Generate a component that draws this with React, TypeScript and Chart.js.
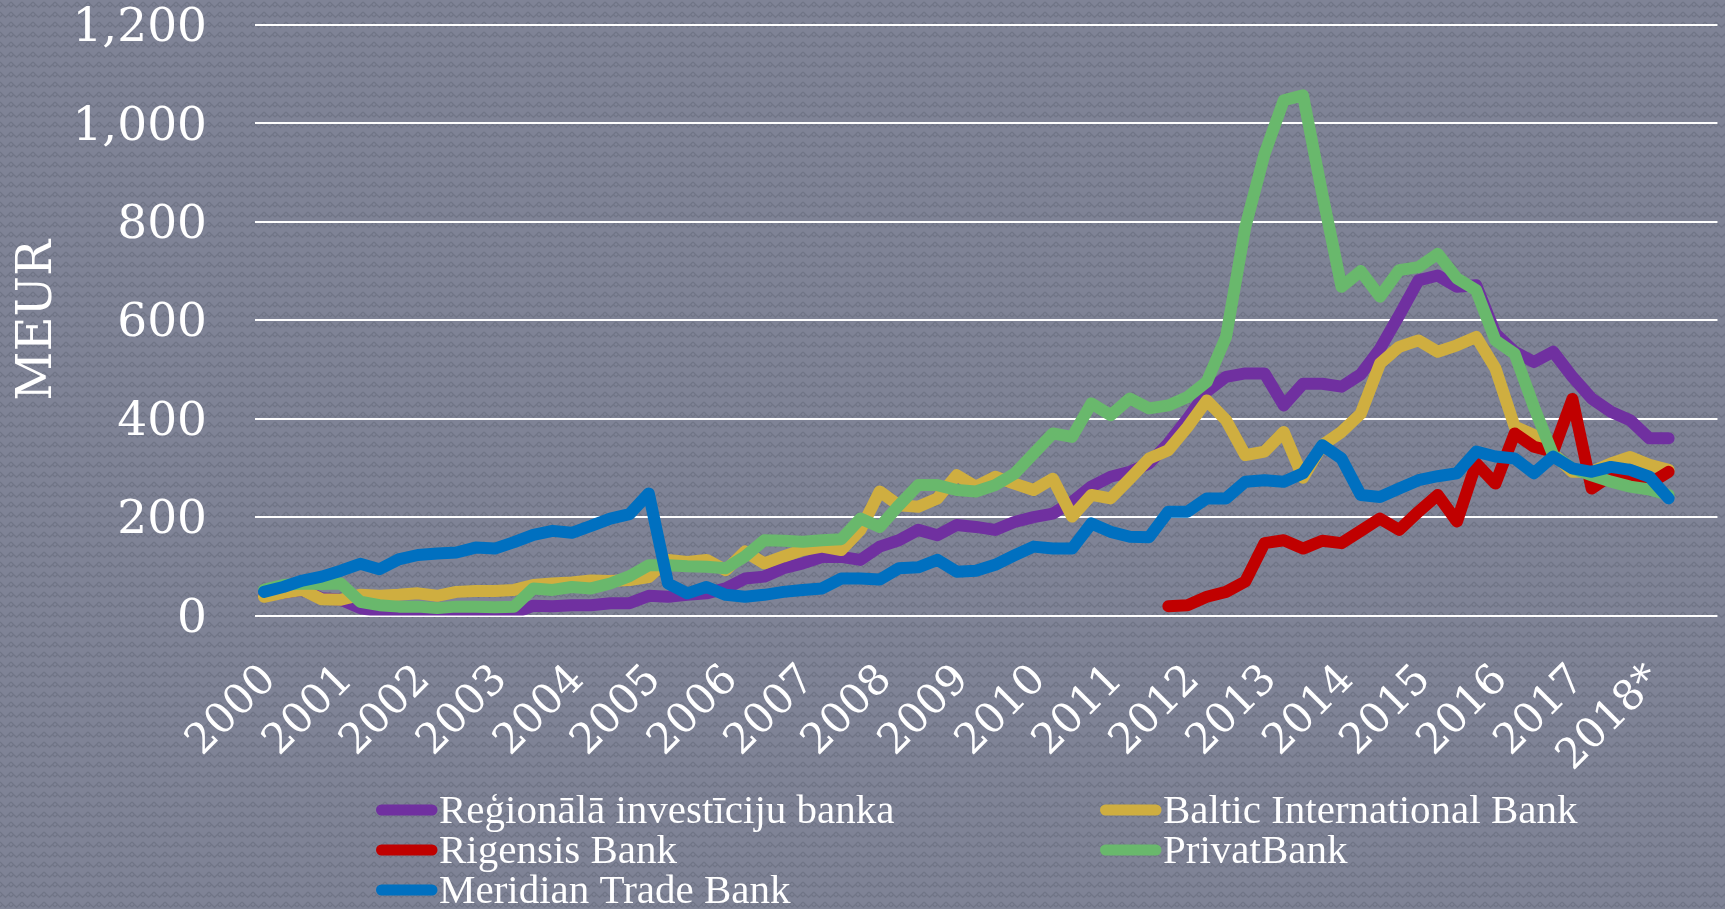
import React, { useEffect, useRef } from 'react';
import { Chart, registerables } from 'chart.js';

Chart.register(...registerables);

// Quarterly data, 2000 Q1 .. 2018 Q2 (74 quarters), MEUR
const yearLabels = ['2000', '2001', '2002', '2003', '2004', '2005', '2006', '2007', '2008', '2009',
  '2010', '2011', '2012', '2013', '2014', '2015', '2016', '2017', '2018*'];

const regionala = [40, 46, 52, 35, 32, 15, 8, 3, 3, 4, 6, 6, 6, 5, 20, 19, 21, 21, 25, 25,
  40, 38, 42, 45, 55, 75, 79, 96, 106, 119, 119, 113, 140, 153, 174, 163, 184, 180, 174, 190,
  200, 207, 231, 262, 282, 292, 309, 350, 400, 455, 485, 492, 492, 427, 471, 471, 465, 490, 542, 610,
  681, 691, 668, 671, 573, 536, 515, 536, 485, 441, 414, 397, 360, 360];

const baltic = [38, 46, 52, 33, 32, 42, 40, 42, 45, 40, 48, 50, 50, 52, 62, 65, 67, 71, 70, 72,
  78, 113, 109, 113, 92, 130, 106, 120, 133, 140, 133, 174, 252, 224, 221, 238, 285, 262, 282, 268,
  255, 278, 201, 245, 238, 278, 319, 336, 383, 437, 397, 326, 333, 373, 280, 346, 373, 410, 512, 546,
  559, 536, 549, 566, 502, 384, 367, 329, 292, 292, 309, 322, 306, 296];

// Rigensis Bank: no data before 2011 Q4
const rigensis: (number | null)[] = [
  null, null, null, null, null, null, null, null, null, null,
  null, null, null, null, null, null, null, null, null, null,
  null, null, null, null, null, null, null, null, null, null,
  null, null, null, null, null, null, null, null, null, null,
  null, null, null, null, null, null, null, 19, 21, 38,
  48, 69, 147, 153, 136, 152, 147, 172, 197, 174,
  211, 245, 191, 309, 268, 370, 343, 333, 440, 258,
  285, 279, 268, 292];

const privat = [52, 62, 65, 64, 65, 28, 21, 18, 18, 15, 18, 18, 17, 18, 55, 52, 58, 55, 65, 80,
  102, 102, 100, 99, 96, 120, 153, 152, 150, 153, 155, 197, 180, 224, 265, 265, 255, 252, 265, 288,
  329, 370, 363, 431, 407, 441, 421, 427, 444, 475, 566, 789, 938, 1047, 1057, 857, 668, 700, 648, 702,
  708, 735, 685, 661, 559, 532, 424, 326, 299, 285, 272, 262, 256, 245];

const meridian = [48, 58, 71, 79, 91, 105, 94, 114, 123, 126, 128, 138, 136, 149, 164, 172, 168, 182, 197, 206,
  248, 65, 45, 58, 42, 38, 42, 48, 52, 55, 75, 75, 73, 96, 98, 113, 89, 91, 103, 122,
  140, 136, 136, 187, 170, 160, 159, 211, 211, 238, 238, 272, 275, 272, 289, 346, 319, 245, 241, 258,
  275, 283, 289, 333, 323, 319, 289, 323, 299, 292, 302, 296, 282, 238];

const seriesNames = ['Reģionālā investīciju banka', 'Baltic International Bank', 'Rigensis Bank', 'PrivatBank', 'Meridian Trade Bank'];
const seriesColors = ['#7030A0', '#CFAE40', '#C00000', '#69B86C', '#0070C0'];
const seriesValues: (number | null)[][] = [regionala, baltic, rigensis, privat, meridian];

const yTicks = [0, 200, 400, 600, 800, 1000, 1200];

export default function App() {
  const ref = useRef<HTMLCanvasElement>(null);

  useEffect(() => {
    document.body.style.margin = '0';
    const canvas = ref.current!;
    const ctx = canvas.getContext('2d')!;

    // background texture
    const pc = document.createElement('canvas');
    pc.width = 11;
    pc.height = 10;
    const p = pc.getContext('2d')!;
    p.fillStyle = '#7f8396';
    p.fillRect(0, 0, 11, 10);
    p.strokeStyle = 'rgba(102,106,124,0.6)';
    p.lineWidth = 1.2;
    p.beginPath();
    p.moveTo(0, 2); p.lineTo(5.5, 7.5); p.lineTo(11, 2);
    p.moveTo(0, 7); p.lineTo(2.5, 4.5); p.moveTo(8.5, 4.5); p.lineTo(11, 7);
    p.stroke();
    const pattern = ctx.createPattern(pc, 'repeat')!;

    const bgPlugin = {
      id: 'bgTexture',
      beforeDraw(chart: any) {
        const c = chart.ctx;
        c.save();
        c.fillStyle = pattern;
        c.fillRect(0, 0, chart.width, chart.height);
        c.restore();
      },
    };

    const legendPlugin = {
      id: 'gridLegend',
      afterDraw(chart: any) {
        const c = chart.ctx;
        c.save();
        const cols = [376, 1100];
        const rows = [810, 850, 890];
        c.font = '41px "Liberation Serif"';
        c.textBaseline = 'alphabetic';
        c.textAlign = 'left';
        seriesNames.forEach((name, k) => {
          const col = cols[k % 2];
          const row = rows[Math.floor(k / 2)];
          c.strokeStyle = seriesColors[k];
          c.lineWidth = 11;
          c.lineCap = 'round';
          c.beginPath();
          c.moveTo(col + 5.5, row);
          c.lineTo(col + 56, row);
          c.stroke();
          c.fillStyle = '#ffffff';
          c.fillText(name, col + 63, row + 13);
        });
        c.restore();
      },
    };

    const datasets = seriesValues.map((vals, k) => ({
      label: seriesNames[k],
      data: vals
        .map((v, i) => ({ x: i, y: v }))
        .filter((pt) => pt.y !== null),
      borderColor: seriesColors[k],
      backgroundColor: seriesColors[k],
      borderWidth: 12,
      borderCapStyle: 'round' as const,
      borderJoinStyle: 'round' as const,
      pointRadius: 0,
      tension: 0,
      fill: false,
      order: seriesNames.length - 1 - k,
    }));

    const chart = new Chart(ctx, {
      type: 'line',
      data: { datasets },
      plugins: [bgPlugin, legendPlugin],
      options: {
        animation: false,
        responsive: false,
        devicePixelRatio: 1,
        layout: { padding: { top: 25, right: 0, bottom: 0, left: 0 } },
        plugins: {
          legend: { display: false },
          tooltip: { enabled: false },
        },
        scales: {
          x: {
            type: 'linear',
            min: -0.465,
            max: 75.54,
            grid: { display: false, drawTicks: false },
            border: { display: false },
            afterFit(scale: any) {
              scale.height = 293.5;
            },
            afterBuildTicks(scale: any) {
              scale.ticks = yearLabels.map((_, j) => ({ value: j * 4 }));
            },
            ticks: {
              autoSkip: false,
              maxRotation: 45,
              minRotation: 45,
              padding: 40,
              labelOffset: 6,
              color: '#ffffff',
              font: { family: '"DejaVu Serif"', size: 42, lineHeight: 1.2 },
              callback: (value: any) => yearLabels[Math.round(Number(value) / 4)] ?? '',
            },
          },
          y: {
            min: 0,
            max: 1200,
            afterFit(scale: any) {
              scale.width = 255;
            },
            afterBuildTicks(scale: any) {
              scale.ticks = yTicks.map((v) => ({ value: v }));
            },
            grid: { color: '#ffffff', lineWidth: 2, drawTicks: true, tickLength: 48, tickColor: 'rgba(0,0,0,0)' },
            border: { display: false },
            ticks: {
              padding: 0,
              labelOffset: 4,
              color: '#ffffff',
              font: { family: '"DejaVu Serif"', size: 47, lineHeight: 1 },
              callback: (value: any) => Number(value).toLocaleString('en-US'),
            },
            title: {
              display: true,
              text: 'MEUR',
              color: '#ffffff',
              font: { family: '"DejaVu Serif"', size: 48, lineHeight: 1.2 },
              padding: { top: 10, bottom: 0 },
            },
          },
        },
      },
    });

    return () => chart.destroy();
  }, []);

  return (
    <div style={{ width: 1725, height: 909 }}>
      <canvas ref={ref} width={1725} height={909} style={{ display: 'block' }} />
    </div>
  );
}
